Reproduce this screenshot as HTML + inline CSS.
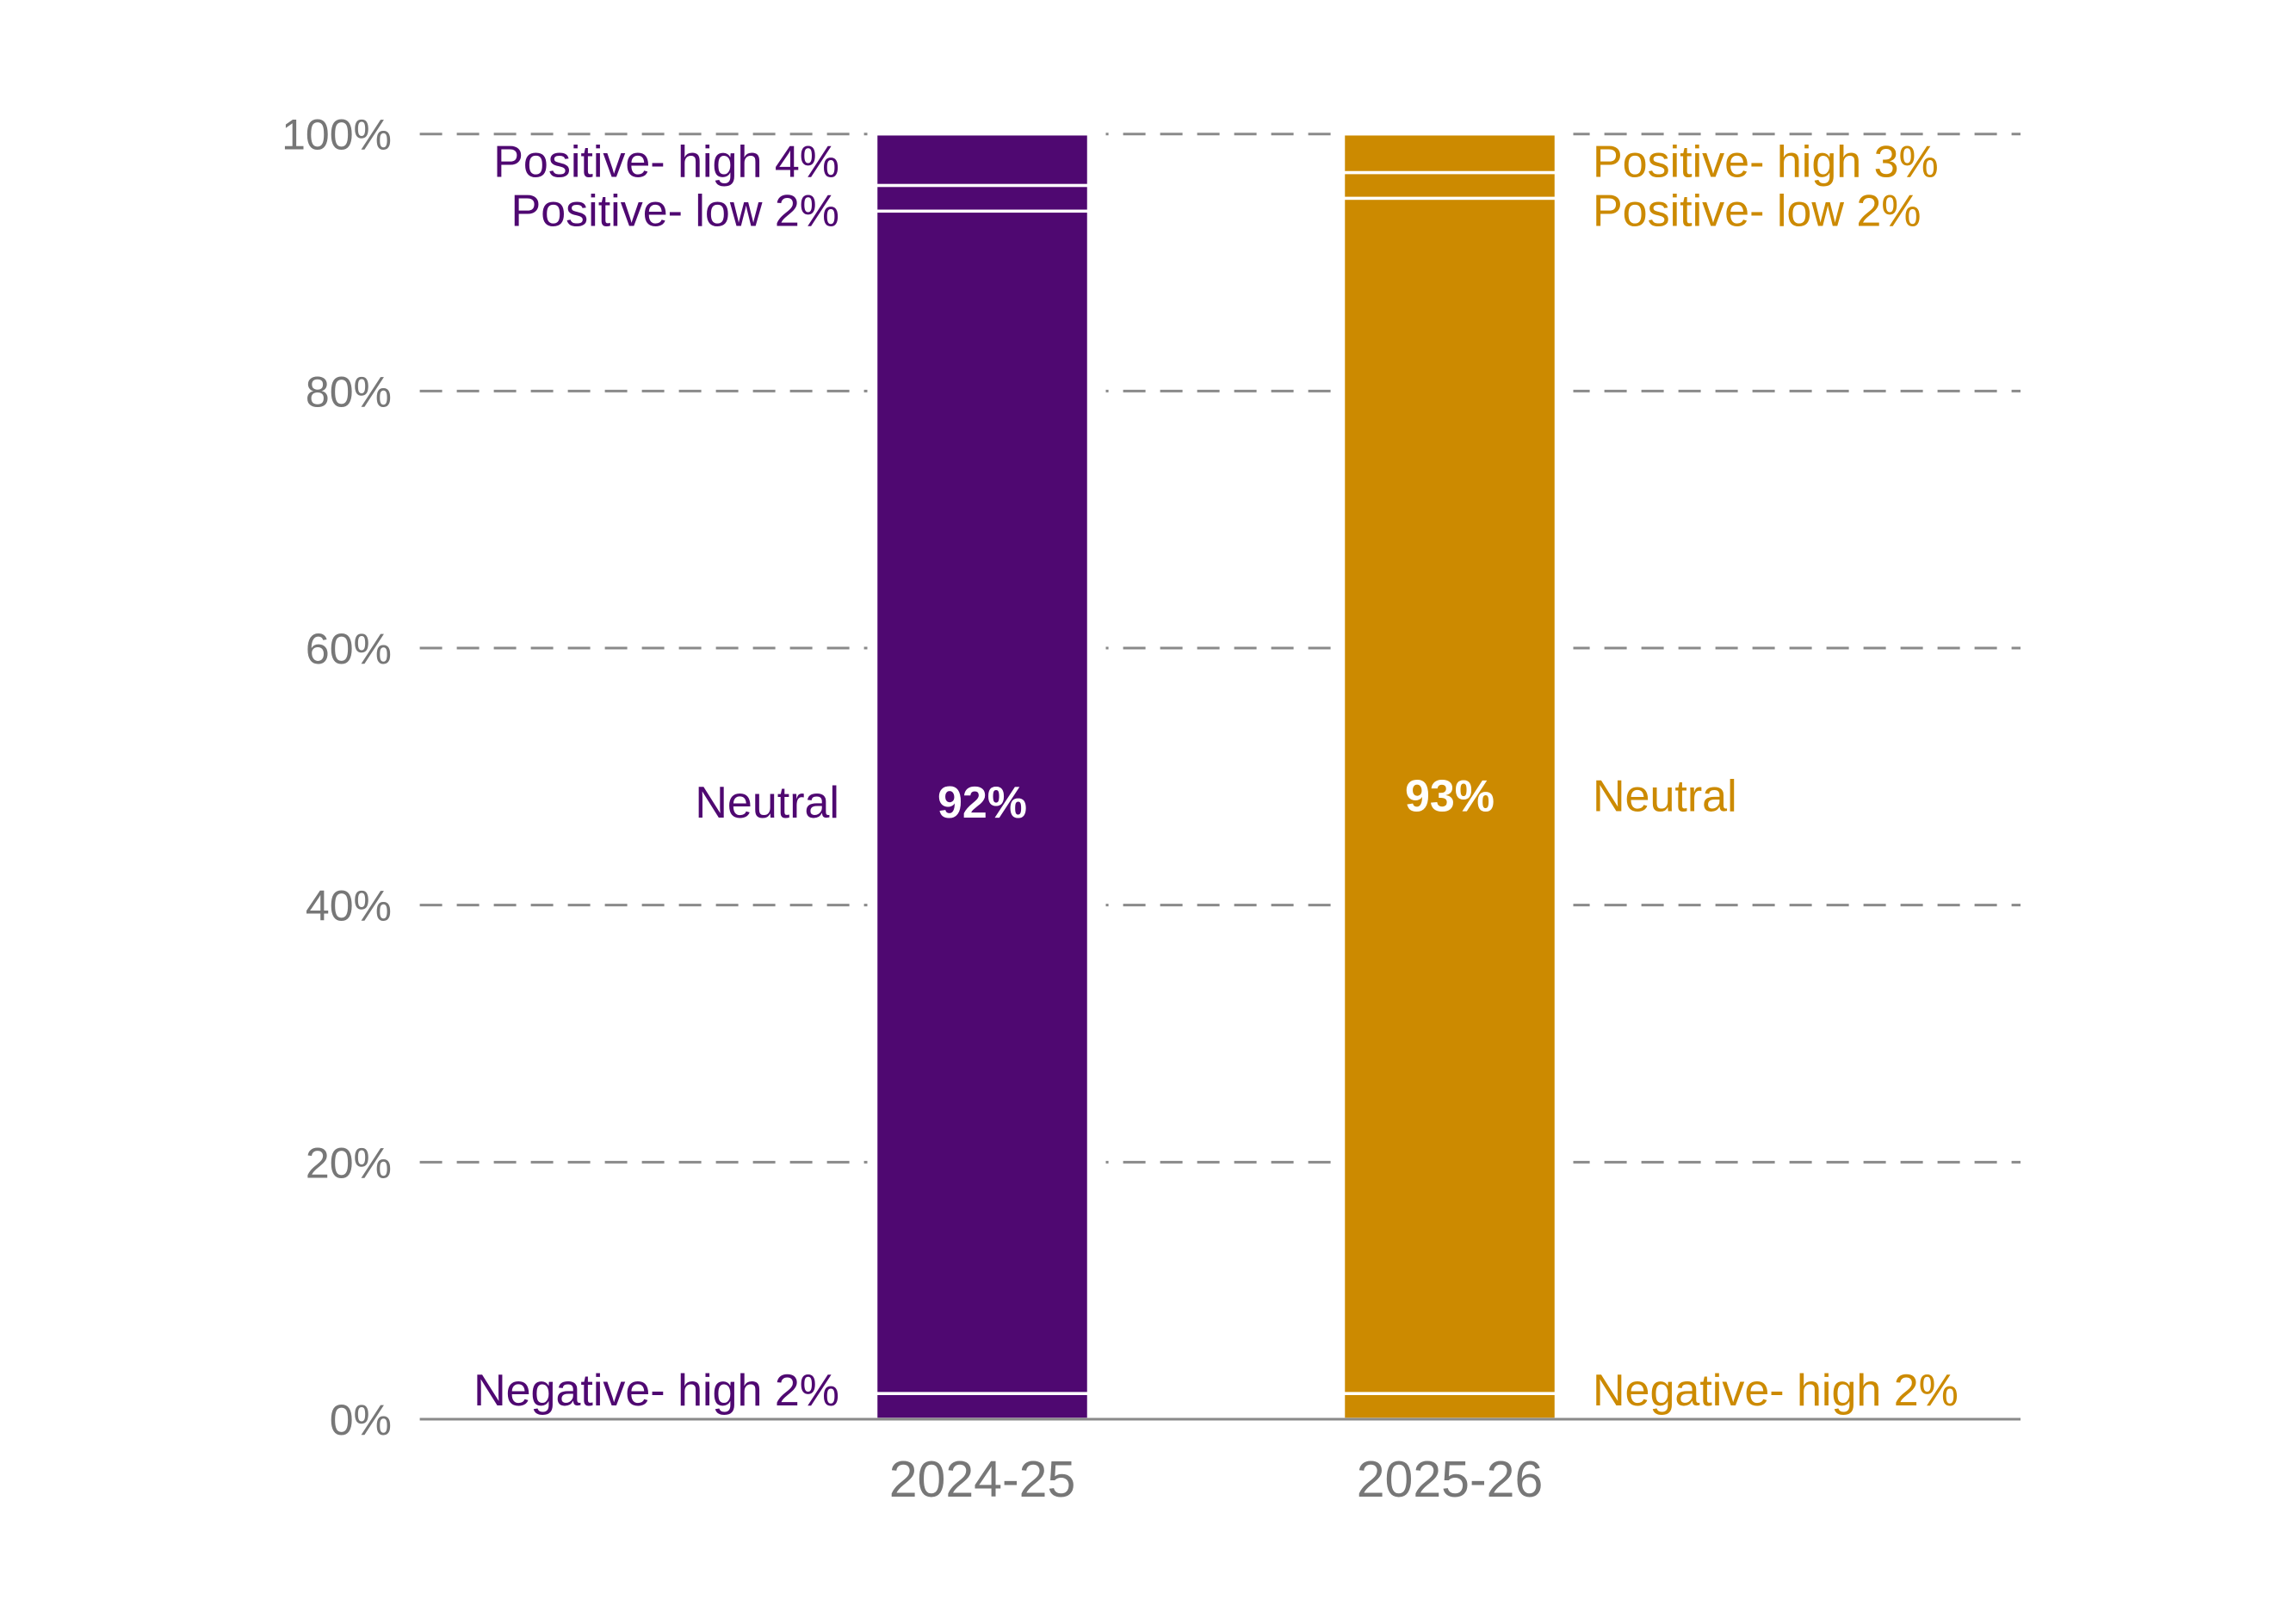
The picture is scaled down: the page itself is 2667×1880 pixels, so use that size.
<!DOCTYPE html>
<html><head><meta charset="utf-8"><style>
html,body{margin:0;padding:0;background:#fff;}
svg text{font-family:"Liberation Sans",sans-serif;}
</style></head><body>
<svg id="chart" width="2667" height="1875" viewBox="0 0 2667 1875" xmlns="http://www.w3.org/2000/svg">
<g id="grid"></g>
<g id="bars"></g>
<g id="labels"></g>
</svg>
<script>
const categories = ["2024-25", "2025-26"];
const seriesNames = ["Negative- high", "Neutral", "Positive- low", "Positive- high"];
const values2024 = [2, 92, 2, 4];
const values2025 = [2, 93, 2, 3];
const yTicks = [0, 20, 40, 60, 80, 100];
const tickLabels = ["0%", "20%", "40%", "60%", "80%", "100%"];

const allValues = [values2024, values2025];
const colors = ["#4F0871", "#CC8A00"];
const NS = "http://www.w3.org/2000/svg";
const y0 = 1649, y100 = 155.7, xL = 487.6, xR = 2347;
const yScale = v => y0 - (v / 100) * (y0 - y100);
const barW = 247;
const xCenter = i => 1141 + i * 543;

function mk(tag, attrs, parent, text) {
  const el = document.createElementNS(NS, tag);
  for (const k in attrs) el.setAttribute(k, attrs[k]);
  if (text !== undefined) el.textContent = text;
  parent.appendChild(el);
  return el;
}
const grid = document.getElementById('grid');
const bars = document.getElementById('bars');
const labels = document.getElementById('labels');

yTicks.forEach((t, i) => {
  const y = yScale(t);
  if (t !== 0) {
    const l = mk('line', {x1: xL, x2: xR, y1: y, y2: y, stroke: '#8a8a8a', 'stroke-width': 3, 'stroke-dasharray': '26 17'}, grid);
    
    
  }
  const tx = mk('text', {x: 455, y: y + 18, 'text-anchor': 'end', 'font-size': 50, fill: '#777'}, grid, tickLabels[i]);
  
  
});

categories.forEach((cat, i) => {
  const vals = allValues[i];
  const cx = xCenter(i), x = cx - barW / 2;
  mk('rect', {x: x - 10, y: y100 - 5, width: barW + 30, height: y0 - y100 + 5, fill: '#fff'}, bars);
  let cum = 0;
  const mids = [];
  vals.forEach((v, j) => {
    const yt = yScale(cum + v), yb = yScale(cum);
    const r = mk('rect', {x: x, y: yt, width: barW, height: yb - yt, fill: colors[i], stroke: '#fff', 'stroke-width': 3.5}, bars);
    
    
    mids.push((yt + yb) / 2);
    cum += v;
  });
  const vl = mk('text', {x: cx, y: mids[1] + 18, 'text-anchor': 'middle', 'font-size': 52, fill: '#fff', 'font-weight': 'bold'}, labels, vals[1] + '%');
  
  
  const ly = mids.slice();
  ly[3] = Math.max(ly[3], y100 + 32);
  ly[2] = Math.max(ly[2], ly[3] + 57);
  ly[0] = Math.min(ly[0], y0 - 34);
  const side = i === 0 ? {x: 975, anchor: 'end'} : {x: 1850, anchor: 'start'};
  [3, 2, 1, 0].forEach(j => {
    const txt = j === 1 ? seriesNames[1] : seriesNames[j] + ' ' + vals[j] + '%';
    const t = mk('text', {x: side.x, y: ly[j] + 18, 'text-anchor': side.anchor, 'font-size': 52, fill: colors[i]}, labels, txt);
    
    
  });
  const c = mk('text', {x: cx, y: 1739, 'text-anchor': 'middle', 'font-size': 59, fill: '#777'}, labels, cat);
  
  
});
const ax = mk('line', {x1: xL, x2: xR, y1: y0, y2: y0, stroke: '#8a8a8a', 'stroke-width': 3}, bars);


</script>
</body></html>
